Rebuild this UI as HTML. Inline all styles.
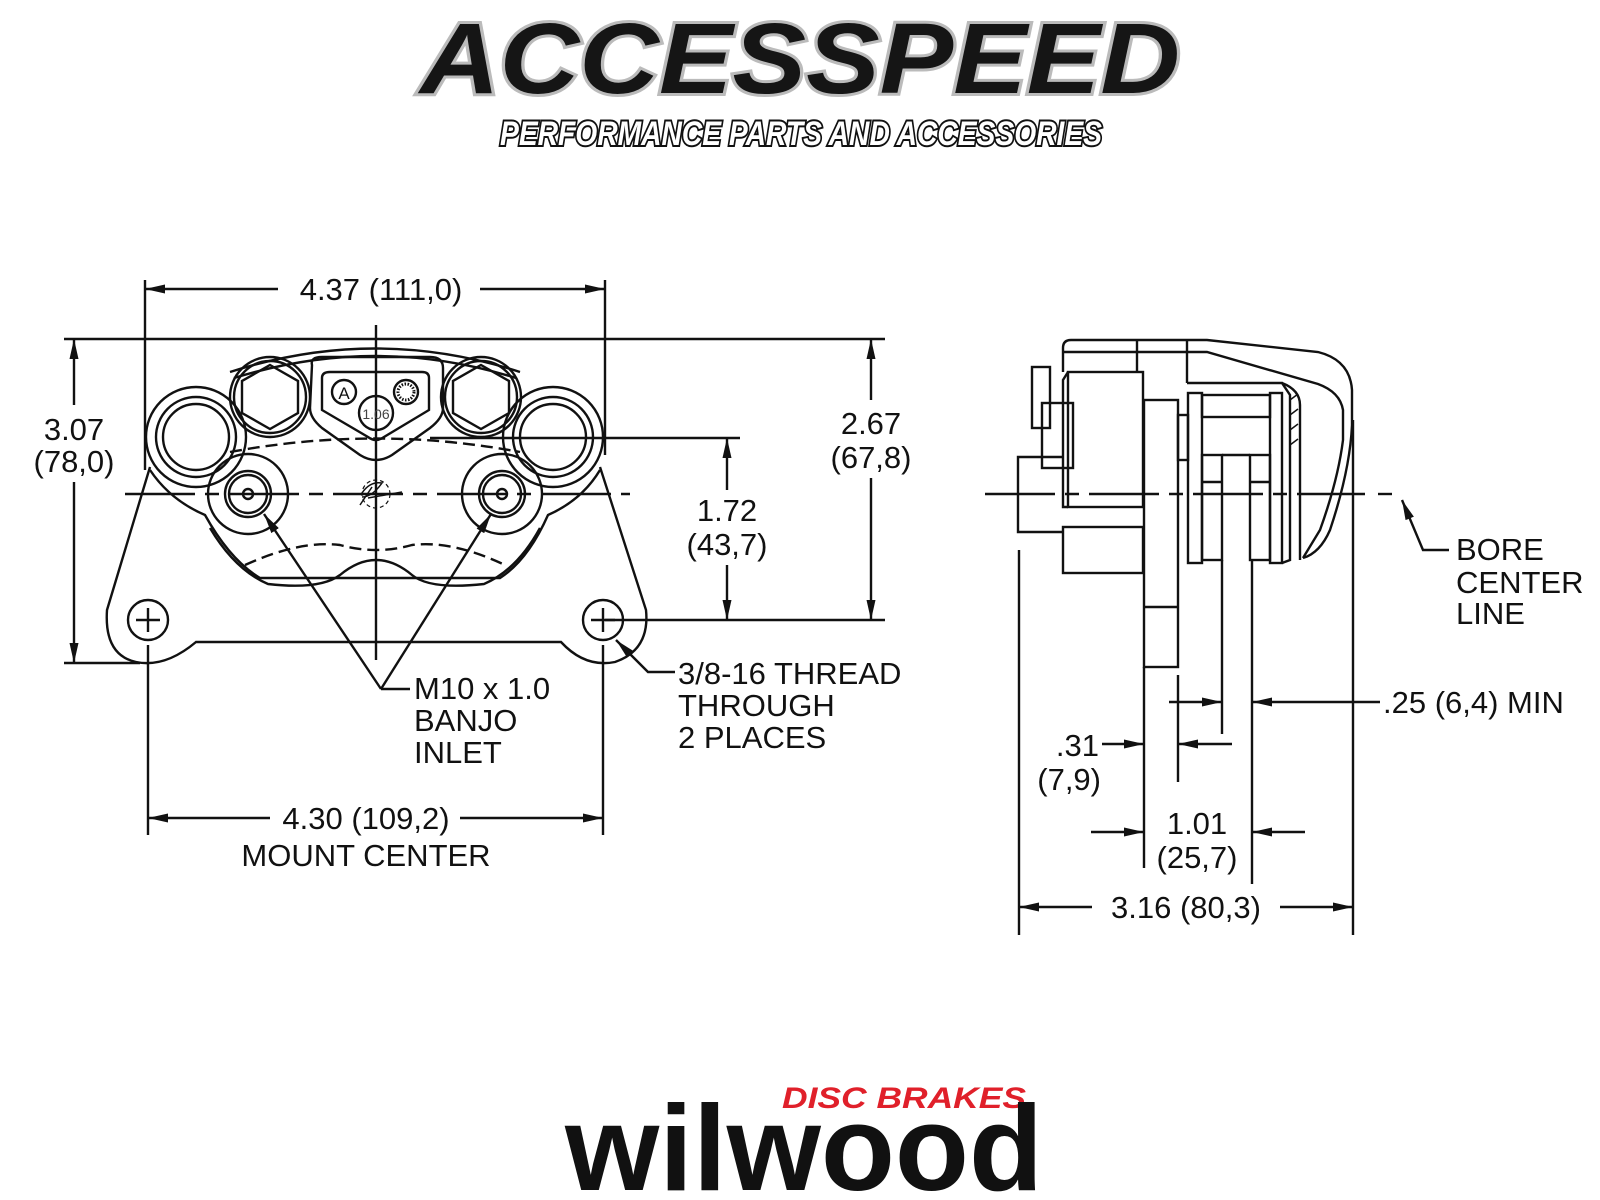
<!DOCTYPE html>
<html><head><meta charset="utf-8"><style>
html,body{margin:0;padding:0;background:#fff}
svg{display:block}
text{font-family:"Liberation Sans",sans-serif;fill:#111}
</style></head><body>
<svg width="1600" height="1200" viewBox="0 0 1600 1200" xmlns="http://www.w3.org/2000/svg">
<defs>
<marker id="a" viewBox="0 0 20 9" refX="20" refY="4.5" markerWidth="20" markerHeight="9" markerUnits="userSpaceOnUse" orient="auto-start-reverse"><path d="M0,0 L20,4.5 L0,9 Z" fill="#111"/></marker>
</defs>
<rect width="1600" height="1200" fill="#fff"/>

<text x="420" y="93" font-size="100" font-weight="bold" font-style="italic" textLength="760" lengthAdjust="spacingAndGlyphs" style="fill:#151515;stroke:#bbb;stroke-width:6;paint-order:stroke">ACCESSPEED</text>
<text x="500" y="145" font-size="34" font-weight="bold" font-style="italic" textLength="602" lengthAdjust="spacingAndGlyphs" style="fill:#fff;stroke:#111;stroke-width:4;paint-order:stroke">PERFORMANCE PARTS AND ACCESSORIES</text>

<g fill="none" stroke="#111" stroke-width="2.4">
<line x1="145" y1="280" x2="145" y2="470"/>
<line x1="605" y1="280" x2="605" y2="455"/>
<line x1="145" y1="289" x2="278" y2="289" marker-start="url(#a)"/>
<line x1="480" y1="289" x2="605" y2="289" marker-end="url(#a)"/>
<line x1="64" y1="339" x2="885" y2="339"/>
<line x1="74" y1="339" x2="74" y2="405" marker-start="url(#a)"/>
<line x1="74" y1="482" x2="74" y2="663" marker-end="url(#a)"/>
<line x1="64" y1="663" x2="140" y2="663"/>
<line x1="871" y1="339" x2="871" y2="400" marker-start="url(#a)"/>
<line x1="871" y1="478" x2="871" y2="620" marker-end="url(#a)"/>
<line x1="605" y1="620" x2="885" y2="620"/>
<line x1="430" y1="438" x2="740" y2="438"/>
<line x1="727" y1="438" x2="727" y2="490" marker-start="url(#a)"/>
<line x1="727" y1="565" x2="727" y2="620" marker-end="url(#a)"/>
<line x1="376" y1="325" x2="376" y2="660"/>
<line x1="125" y1="494" x2="630" y2="494" stroke-dasharray="70 10 14 10"/>
<line x1="148" y1="645" x2="148" y2="835"/>
<line x1="603" y1="645" x2="603" y2="835"/>
<line x1="148" y1="818" x2="270" y2="818" marker-start="url(#a)"/>
<line x1="460" y1="818" x2="603" y2="818" marker-end="url(#a)"/>

<path d="M150 467 L107 610 Q104 655 136 662 Q165 668 196 642 L561 642 Q585 668 615 662 Q650 650 646 610 L600 467"/>
<circle cx="148" cy="620" r="20"/><path d="M136 620h24M148 608v24"/>
<circle cx="603" cy="620" r="20"/><path d="M591 620h24M603 608v24"/>
<path d="M230 372 Q376 325 520 372"/>
<path d="M234 378 Q376 334 516 378"/>
<circle cx="196" cy="437" r="50"/><circle cx="196" cy="437" r="40"/><circle cx="196" cy="437" r="33"/>
<circle cx="553" cy="437" r="50"/><circle cx="553" cy="437" r="40"/><circle cx="553" cy="437" r="33"/>
<circle cx="270" cy="397" r="40"/><circle cx="270" cy="397" r="36"/>
<polygon points="270,365 298,381 298,413 270,429 242,413 242,381"/>
<circle cx="481" cy="397" r="40"/><circle cx="481" cy="397" r="36"/>
<polygon points="481,365 509,381 509,413 481,429 453,413 453,381"/>
<path d="M312 365 Q310 357 322 357 L430 357 Q443 357 443 368 L443 408 Q443 418 430 428 L392 455 Q376 465 360 455 L322 428 Q310 418 310 408 Z"/>
<path d="M322 378 Q322 372 330 372 L422 372 Q429 372 429 378 L429 410 L384 437 Q376 443 368 437 L322 410 Z"/>
<circle cx="344" cy="392" r="12"/>
<text x="344" y="399" font-size="17" text-anchor="middle" stroke="none">A</text>
<circle cx="406" cy="392" r="12"/><circle cx="406" cy="392" r="8" stroke-dasharray="1.5 1.5" stroke-width="3"/>
<circle cx="376" cy="413" r="17"/>
<text x="376" y="419" font-size="14" text-anchor="middle" stroke="none" style="fill:#444">1.06</text>
<path d="M150 470 Q170 500 205 515 Q230 560 260 578 L500 578 Q528 560 548 515 Q582 500 600 470"/>
<path d="M210 528 Q235 570 268 584 Q320 590 340 575 Q376 545 412 575 Q430 590 484 584 Q517 570 540 528"/>
<path d="M230 452 Q376 425 520 452" stroke-dasharray="12 6"/>
<path d="M245 565 Q300 540 340 545 Q376 555 412 545 Q452 540 505 565" stroke-dasharray="12 6"/>
<circle cx="248" cy="494" r="40"/><circle cx="248" cy="494" r="23"/><circle cx="248" cy="494" r="19"/><circle cx="248" cy="494" r="5"/>
<circle cx="502" cy="494" r="40"/><circle cx="502" cy="494" r="23"/><circle cx="502" cy="494" r="19"/><circle cx="502" cy="494" r="5"/>
<path d="M362 493 q8 -12 20 -10 q-10 14 -20 14 M360 505 l12 -18 M368 498 l34 -6" stroke-width="1.5"/>
<circle cx="376" cy="494" r="14" stroke-width="1.2" stroke-dasharray="4 3"/>
<line x1="381" y1="689" x2="264" y2="514" marker-end="url(#a)"/>
<line x1="381" y1="689" x2="491" y2="514" marker-end="url(#a)"/>
<line x1="381" y1="689" x2="410" y2="689"/>
<path d="M675 672 L648 672 L616 640" marker-end="url(#a)"/>

<path d="M1063 372 L1063 348 Q1063 340 1071 340 L1207 340 L1318 352 Q1350 360 1352 390 L1352 425 Q1350 470 1330 530 Q1320 553 1303 558"/>
<path d="M1063 352 L1207 352 L1318 384 Q1340 392 1343 410 L1343 440 Q1338 480 1320 530 L1303 558"/>
<line x1="1137" y1="340" x2="1137" y2="372"/>
<line x1="1187" y1="340" x2="1187" y2="383"/>
<path d="M1187 383 L1282 383 L1290 395 L1290 560 L1282 563"/>
<path d="M1282 383 Q1300 390 1300 405 L1300 560"/>
<path d="M1290 400 l8 -6 M1290 415 l8 -6 M1290 430 l8 -6 M1290 445 l8 -6" stroke-width="1.5"/>
<rect x="1032" y="367" width="18" height="61"/>
<rect x="1042" y="403" width="31" height="65"/>
<rect x="1068" y="372" width="75" height="135"/>
<path d="M1068 372 L1063 380 L1063 507 L1068 507"/>
<rect x="1063" y="527" width="80" height="46"/>
<path d="M1063 457 L1018 457 L1018 532 L1063 532"/>
<rect x="1144" y="400" width="34" height="267"/>
<line x1="1144" y1="607" x2="1178" y2="607"/>
<rect x="1178" y="415" width="10" height="45"/>
<rect x="1188" y="393" width="14" height="170"/>
<rect x="1202" y="395" width="68" height="22"/>
<rect x="1202" y="455" width="20" height="105"/>
<line x1="1202" y1="482" x2="1222" y2="482"/>
<rect x="1250" y="455" width="20" height="105"/>
<line x1="1250" y1="482" x2="1270" y2="482"/>
<line x1="1222" y1="455" x2="1250" y2="455"/>
<rect x="1270" y="393" width="12" height="170"/>
<line x1="985" y1="494" x2="1365" y2="494" stroke-dasharray="70 10 14 10"/>
<line x1="1378" y1="494" x2="1392" y2="494"/>
<path d="M1449 550 L1423 550 L1402 500" marker-end="url(#a)"/>
<line x1="1019" y1="550" x2="1019" y2="935"/>
<line x1="1144" y1="667" x2="1144" y2="868"/>
<line x1="1178" y1="675" x2="1178" y2="782"/>
<line x1="1222" y1="560" x2="1222" y2="734"/>
<line x1="1252" y1="560" x2="1252" y2="884"/>
<line x1="1353" y1="420" x2="1353" y2="935"/>
<line x1="1169" y1="702" x2="1222" y2="702" marker-end="url(#a)"/>
<line x1="1380" y1="702" x2="1252" y2="702" marker-end="url(#a)"/>
<line x1="1102" y1="744" x2="1144" y2="744" marker-end="url(#a)"/>
<line x1="1232" y1="744" x2="1178" y2="744" marker-end="url(#a)"/>
<line x1="1091" y1="832" x2="1144" y2="832" marker-end="url(#a)"/>
<line x1="1305" y1="832" x2="1252" y2="832" marker-end="url(#a)"/>
<line x1="1019" y1="907" x2="1092" y2="907" marker-start="url(#a)"/>
<line x1="1280" y1="907" x2="1353" y2="907" marker-end="url(#a)"/>
</g>

<g font-size="31" stroke="none">
<text x="381" y="300" text-anchor="middle">4.37 (111,0)</text>
<text x="74" y="440" text-anchor="middle">3.07</text>
<text x="74" y="472" text-anchor="middle">(78,0)</text>
<text x="871" y="434" text-anchor="middle">2.67</text>
<text x="871" y="468" text-anchor="middle">(67,8)</text>
<text x="727" y="521" text-anchor="middle">1.72</text>
<text x="727" y="555" text-anchor="middle">(43,7)</text>
<text x="414" y="699">M10 x 1.0</text>
<text x="414" y="731">BANJO</text>
<text x="414" y="763">INLET</text>
<text x="678" y="684">3/8-16 THREAD</text>
<text x="678" y="716">THROUGH</text>
<text x="678" y="748">2 PLACES</text>
<text x="366" y="829" text-anchor="middle">4.30 (109,2)</text>
<text x="366" y="866" text-anchor="middle">MOUNT CENTER</text>
<text x="1456" y="560">BORE</text>
<text x="1456" y="593">CENTER</text>
<text x="1456" y="624">LINE</text>
<text x="1383" y="713">.25 (6,4) MIN</text>
<text x="1099" y="756" text-anchor="end">.31</text>
<text x="1101" y="790" text-anchor="end">(7,9)</text>
<text x="1197" y="834" text-anchor="middle">1.01</text>
<text x="1197" y="868" text-anchor="middle">(25,7)</text>
<text x="1186" y="918" text-anchor="middle">3.16 (80,3)</text>
</g>

<text x="782" y="1108" font-size="30" font-weight="bold" font-style="italic" textLength="244" lengthAdjust="spacingAndGlyphs" style="fill:#e0202a">DISC BRAKES</text>
<text x="565" y="1190" font-size="122" font-weight="bold" textLength="478" lengthAdjust="spacingAndGlyphs" style="fill:#111">wilwood</text>
</svg>
</body></html>
